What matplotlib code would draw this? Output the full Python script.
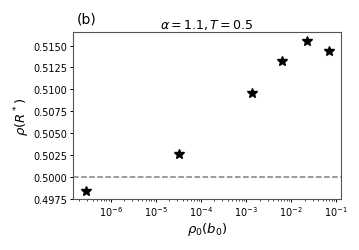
import numpy as np
import matplotlib
matplotlib.use("Agg")
import matplotlib.pyplot as plt

# values
rho0_b0 = [2.8e-7, 3.2e-5, 1.34e-3, 6.2e-3, 2.3e-2, 6.8e-2]
rho_R = [0.49833, 0.50265, 0.50957, 0.51322, 0.51557, 0.51436]
ref_level = 0.5
yticks = [0.4975, 0.5000, 0.5025, 0.5050, 0.5075, 0.5100, 0.5125, 0.5150]

fig = plt.figure(figsize=(3.59, 2.51), dpi=100)
ax = fig.add_axes([0.203, 0.203, 0.746, 0.664])

ax.plot(rho0_b0, rho_R, '*', color='k', markersize=7)
ax.axhline(ref_level, color='gray', linestyle='--', linewidth=1.1)

ax.set_xscale('log')
ax.set_xlim(10**-6.84, 10**-0.90)
ax.set_ylim(0.49745, 0.5165)
ax.set_yticks(yticks)
ax.set_yticklabels(['%.4f' % v for v in yticks])
ax.tick_params(labelsize=7, length=2.5, width=0.7, pad=1.5)
ax.tick_params(which='minor', length=1.5, width=0.5)
for s in ax.spines.values():
    s.set_color('#555555')

ax.set_xlabel(r'$\rho_0(b_0)$', fontsize=9.5, labelpad=1)
ax.set_ylabel(r'$\rho(R^*)$', fontsize=9.5, labelpad=1)
ax.set_title(r'$\alpha = 1.1, T = 0.5$', fontsize=9, pad=3)
fig.text(0.213, 0.905, '(b)', fontsize=10)

fig.savefig('out.png', dpi=100)
